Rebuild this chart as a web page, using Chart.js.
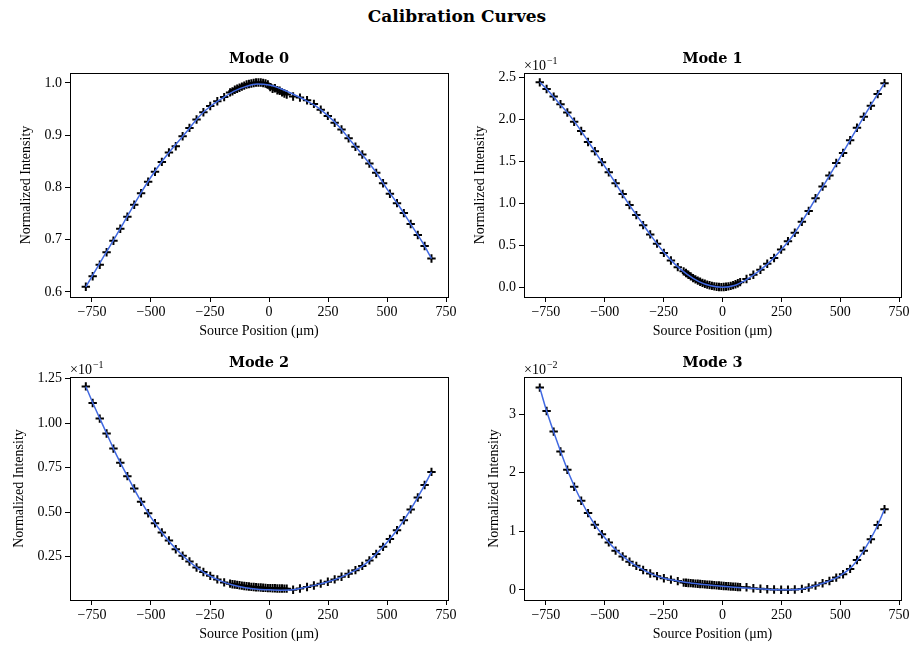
<!DOCTYPE html>
<html>
<head>
<meta charset="utf-8">
<script src="https://cdn.jsdelivr.net/npm/chart.js@4.4.1/dist/chart.umd.min.js"></script>
<style>
  html, body { margin: 0; padding: 0; background: #fff; }
  #page { position: relative; width: 914px; height: 651px; overflow: hidden; }
  #page canvas { position: absolute; left: 0; top: 0; }
  #suptitle { position: absolute; left: 0; top: 6px; width: 914px; text-align: center;
              font: bold 17px 'DejaVu Serif'; color: #000; }
</style>
</head>
<body>
<div id="page">
  <div id="suptitle">Calibration Curves</div>
  <canvas id="c0" width="914" height="651"></canvas>
  <canvas id="c1" width="914" height="651"></canvas>
  <canvas id="c2" width="914" height="651"></canvas>
  <canvas id="c3" width="914" height="651"></canvas>
</div>
<script>
// source positions of the measured points (um)
const positions = [
  -776, -747, -717, -688, -659, -630, -600, -571, -542, -512, -483, -454, -424, -395, -366, -337, -307, -278, -249, -219, -190,
  -165, -155, -145, -135, -125, -115, -105, -95, -85, -75, -65, -55, -45, -35, -25, -15, -5, 5, 15, 25, 35, 45, 55, 65, 75,
  102, 131, 161, 190, 219, 249, 278, 307, 337, 366, 395, 425, 454, 483, 512, 542, 571, 600, 630, 659, 688
];

// measured normalized intensity per mode
const mode0 = [
  0.610, 0.630, 0.652, 0.676, 0.698, 0.721, 0.744, 0.767, 0.789, 0.811, 0.830, 0.849, 0.867, 0.879, 0.898, 0.914, 0.930, 0.944, 0.956, 0.965, 0.973,
  0.982, 0.984, 0.987, 0.989, 0.991, 0.993, 0.995, 0.997, 0.998, 0.999, 1.000, 1.001, 1.001, 1.001, 1.000, 0.999, 0.997, 0.992, 0.989, 0.990, 0.986, 0.985, 0.982, 0.980, 0.978,
  0.974, 0.972, 0.967, 0.960, 0.949, 0.937, 0.924, 0.911, 0.894, 0.878, 0.863, 0.846, 0.828, 0.808, 0.788, 0.770, 0.751, 0.730, 0.709, 0.688, 0.664
];
const mode1 = [
  0.244, 0.236, 0.227, 0.218, 0.208, 0.197, 0.186, 0.173, 0.162, 0.149, 0.137, 0.124, 0.111, 0.098, 0.086, 0.074, 0.063, 0.052, 0.041, 0.032, 0.024,
  0.019, 0.017, 0.015, 0.013, 0.011, 0.0095, 0.008, 0.0066, 0.0053, 0.0042, 0.0032, 0.0024, 0.0017, 0.0011, 0.0007, 0.0004, 0.0003, 0.0004, 0.0007, 0.0012, 0.0018, 0.0026, 0.0036, 0.0048, 0.0062,
  0.010, 0.015, 0.021, 0.028, 0.035, 0.045, 0.055, 0.065, 0.078, 0.091, 0.106, 0.120, 0.133, 0.148, 0.160, 0.175, 0.190, 0.203, 0.216, 0.230, 0.243
];
const mode2 = [
  0.1207, 0.1114, 0.1026, 0.0942, 0.0857, 0.0777, 0.0702, 0.0633, 0.0558, 0.0493, 0.0437, 0.0385, 0.0340, 0.0291, 0.0254, 0.0222, 0.0188, 0.0163, 0.0141, 0.0121, 0.0104,
  0.0097, 0.0094, 0.0092, 0.0090, 0.0088, 0.0086, 0.0084, 0.0082, 0.0081, 0.0079, 0.0078, 0.0077, 0.0076, 0.0075, 0.0074, 0.0073, 0.0072, 0.0072, 0.0071, 0.0071, 0.0070, 0.0070, 0.0070, 0.0069, 0.0069,
  0.0063, 0.0070, 0.0078, 0.0087, 0.0097, 0.0108, 0.0121, 0.0136, 0.0153, 0.0173, 0.0197, 0.0228, 0.0264, 0.0304, 0.0348, 0.0398, 0.0454, 0.0515, 0.0582, 0.0652, 0.0726
];
const mode3 = [
  0.0345, 0.0305, 0.0270, 0.0236, 0.0205, 0.0176, 0.0152, 0.0131, 0.0111, 0.0095, 0.0081, 0.0067, 0.0057, 0.0048, 0.0041, 0.0034, 0.0028, 0.00235, 0.0020, 0.00175, 0.0015,
  0.00125, 0.00122, 0.00118, 0.00115, 0.00112, 0.00108, 0.00105, 0.00101, 0.00098, 0.00095, 0.00091, 0.00088, 0.00085, 0.00081, 0.00078, 0.00075, 0.00071, 0.00068, 0.00065, 0.00062, 0.00059, 0.00056, 0.00053, 0.00050, 0.00047,
  0.00045, 0.00028, 0.00020, 0.00011, 0.00006, 0.00004, 0.00004, 0.00006, 0.00017, 0.00040, 0.00074, 0.00114, 0.00153, 0.00210, 0.00267, 0.00358, 0.00511, 0.00670, 0.00864, 0.01108, 0.01375
];

// fitted calibration curves
const fitPositions = [-776, -750, -700, -650, -600, -550, -500, -450, -400, -350, -300, -250, -200, -150, -100, -50,
  0, 50, 100, 150, 200, 250, 300, 350, 400, 450, 500, 550, 600, 650, 688];
const fit0 = [0.610, 0.630, 0.668, 0.706, 0.745, 0.784, 0.820, 0.852, 0.880, 0.906, 0.934, 0.955, 0.970, 0.984, 0.993, 0.998,
  0.996, 0.989, 0.979, 0.968, 0.955, 0.937, 0.915, 0.887, 0.860, 0.831, 0.797, 0.765, 0.730, 0.695, 0.664];
const fit1 = [0.244, 0.237, 0.221, 0.205, 0.186, 0.165, 0.144, 0.122, 0.100, 0.080, 0.060, 0.042, 0.027, 0.0155, 0.0068, 0.0018,
  0.0, 0.0022, 0.009, 0.0185, 0.030, 0.045, 0.062, 0.084, 0.108, 0.131, 0.155, 0.179, 0.203, 0.226, 0.243];
const fit2 = [0.1207, 0.1125, 0.0978, 0.0832, 0.0702, 0.0578, 0.0470, 0.0378, 0.0300, 0.0236, 0.0182, 0.0140, 0.0110, 0.0088, 0.0074, 0.0066,
  0.0062, 0.0060, 0.0062, 0.0075, 0.0090, 0.0108, 0.0131, 0.0162, 0.0200, 0.0259, 0.0330, 0.0413, 0.0515, 0.0630, 0.0726];
const fit3 = [0.0345, 0.0309, 0.0250, 0.0196, 0.0152, 0.0116, 0.0089, 0.0067, 0.0050, 0.0037, 0.0027, 0.0020, 0.0016, 0.00125, 0.0010, 0.0008,
  0.00062, 0.00046, 0.00032, 0.00018, 0.00008, 0.00003, 0.00004, 0.00025, 0.0008, 0.00148, 0.00243, 0.0040, 0.0067, 0.0103, 0.01375];

const titles = ['Mode 0', 'Mode 1', 'Mode 2', 'Mode 3'];
const offsetExp = [null, '\u22121', '\u22121', '\u22122'];

Chart.defaults.font.family = "'Liberation Serif', serif";
Chart.defaults.font.size = 14;
Chart.defaults.color = '#000';

const LH = 14 * 1.2;  // line height of axis titles

// panel geometry: axes box [left, top, right, bottom] in page px
const panels = [
  { id: 'c0', box: [70, 73, 448, 297], yLabelX: 26, xLabelY: 331, titleY: 59,
    meas: mode0, fit: fit0, yMin: 0.5904, yMax: 1.0191, step: 0.1, fmt: v => v.toFixed(1) },
  { id: 'c1', box: [524, 73, 901, 297], yLabelX: 480, xLabelY: 331, titleY: 59,
    meas: mode1, fit: fit1, yMin: -0.0115, yMax: 0.2551, step: 0.05, fmt: v => (v * 10).toFixed(1) },
  { id: 'c2', box: [70, 377, 448, 600], yLabelX: 19, xLabelY: 634, titleY: 363,
    meas: mode2, fit: fit2, yMin: 0.0005, yMax: 0.1260, step: 0.025, fmt: v => (v * 10).toFixed(2) },
  { id: 'c3', box: [524, 377, 901, 600], yLabelX: 494, xLabelY: 634, titleY: 363,
    meas: mode3, fit: fit3, yMin: -0.00172, yMax: 0.03631, step: 0.01, fmt: v => (v * 100).toFixed(0) }
];

function minus(s) { return String(s).replace('-', '\u2212'); }

// black frame around the plot area
const framePlugin = {
  id: 'frame',
  afterDraw(chart) {
    const a = chart.chartArea, ctx = chart.ctx;
    ctx.save();
    ctx.strokeStyle = '#000';
    ctx.lineWidth = 1;
    ctx.strokeRect(Math.round(a.left) + 0.5, Math.round(a.top) + 0.5,
                   Math.round(a.right - a.left), Math.round(a.bottom - a.top));
    ctx.restore();
  }
};

// the x10^n offset text above the y axis
const offsetPlugin = {
  id: 'offsetText',
  afterDraw(chart, args, opts) {
    if (!opts.exp) return;
    const a = chart.chartArea, ctx = chart.ctx;
    ctx.save();
    ctx.fillStyle = '#000';
    ctx.textBaseline = 'alphabetic';
    ctx.textAlign = 'left';
    ctx.font = "14px 'Liberation Serif'";
    const base = a.top - 3;
    ctx.fillText('\u00d710', a.left, base);
    const w = ctx.measureText('\u00d710').width;
    ctx.font = "10px 'Liberation Serif'";
    ctx.fillText(opts.exp, a.left + w + 1, base - 6);
    ctx.restore();
  }
};

panels.forEach((p, i) => {
  const [L, T, R, B] = p.box;
  const padLeft = p.yLabelX - LH / 2;
  const padBottom = 651 - p.xLabelY - LH / 2;
  const titleLH = 14.5 * 1.2;
  const padTop = p.titleY - titleLH / 2;
  const xHeight = p.xLabelY + LH / 2 - B;
  const yWidth = L - padLeft;

  new Chart(document.getElementById(p.id), {
    type: 'scatter',
    data: {
      datasets: [
        {
          label: 'fit',
          data: fitPositions.map((x, k) => ({ x: x, y: p.fit[k] })),
          showLine: true,
          borderColor: '#4169e1',
          borderWidth: 1.5,
          pointRadius: 0,
          cubicInterpolationMode: 'monotone',
          order: 0
        },
        {
          label: 'data',
          data: positions.map((x, k) => ({ x: x, y: p.meas[k] })),
          showLine: false,
          pointStyle: 'cross',
          pointRadius: 4.2,
          borderColor: '#000',
          backgroundColor: '#000',
          borderWidth: 2,
          order: 1
        }
      ]
    },
    options: {
      responsive: false,
      animation: false,
      events: [],
      layout: { padding: { left: padLeft, top: padTop, right: 914 - R, bottom: padBottom } },
      plugins: {
        legend: { display: false },
        tooltip: { enabled: false },
        title: {
          display: true,
          text: titles[i],
          fullSize: false,
          color: '#000',
          font: { family: "'DejaVu Serif'", weight: 'bold', size: 14.5 },
          padding: { top: 0, bottom: T - padTop - titleLH }
        },
        offsetText: { exp: offsetExp[i] }
      },
      scales: {
        x: {
          type: 'linear',
          min: -843,
          max: 758,
          border: { display: false },
          grid: { display: true, drawOnChartArea: false, drawTicks: true, tickLength: 5, color: '#000' },
          ticks: { stepSize: 250, includeBounds: false, padding: 2, maxRotation: 0,
                   callback: v => minus(v) },
          title: { display: true, text: 'Source Position (\u03bcm)', padding: 0,
                   font: { family: "'Liberation Serif'", size: 14 } },
          afterFit: s => { s.height = xHeight; }
        },
        y: {
          type: 'linear',
          min: p.yMin,
          max: p.yMax,
          border: { display: false },
          grid: { display: true, drawOnChartArea: false, drawTicks: true, tickLength: 5, color: '#000' },
          ticks: { stepSize: p.step, includeBounds: false, padding: 3,
                   callback: v => minus(p.fmt(v)) },
          title: { display: true, text: 'Normalized Intensity', padding: 0,
                   font: { family: "'Liberation Serif'", size: 14 } },
          afterFit: s => { s.width = yWidth; }
        }
      }
    },
    plugins: [framePlugin, offsetPlugin]
  });
});
</script>
</body>
</html>
